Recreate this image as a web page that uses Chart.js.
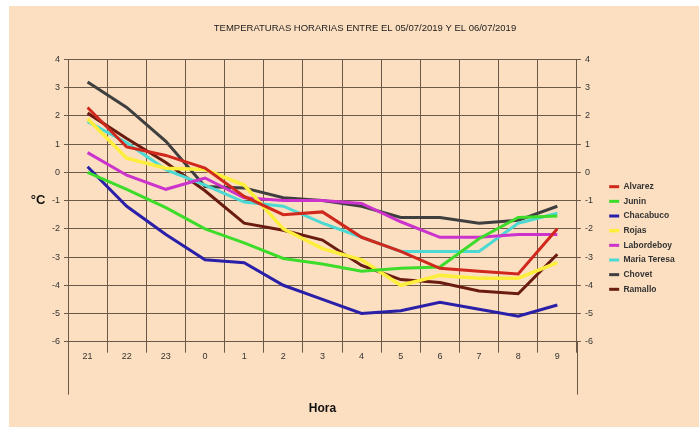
<!DOCTYPE html>
<html>
<head>
<meta charset="utf-8">
<script src="https://cdn.jsdelivr.net/npm/chart.js@4/dist/chart.umd.min.js"></script>
<style>
  html, body { margin: 0; padding: 0; background: #ffffff; }
  canvas { display: block; }
</style>
</head>
<body>
<canvas id="c" width="699" height="433"></canvas>
<script>
// ---- data ----
const hours = ['21', '22', '23', '0', '1', '2', '3', '4', '5', '6', '7', '8', '9'];
const alvarez     = [2.3, 0.9, 0.6, 0.15, -0.85, -1.5, -1.4, -2.3, -2.8, -3.4, -3.5, -3.6, -2.0];
const junin       = [0.0, -0.6, -1.25, -2.0, -2.5, -3.05, -3.25, -3.5, -3.4, -3.35, -2.35, -1.6, -1.55];
const chacabuco   = [0.2, -1.2, -2.2, -3.1, -3.2, -4.0, -4.5, -5.0, -4.9, -4.6, -4.85, -5.1, -4.7];
const rojas       = [1.9, 0.5, 0.15, 0.1, -0.45, -2.0, -2.7, -3.1, -4.0, -3.65, -3.75, -3.75, -3.2];
const labordeboy  = [0.7, -0.1, -0.6, -0.2, -0.9, -1.0, -1.0, -1.1, -1.75, -2.3, -2.3, -2.2, -2.2];
const mariaTeresa = [1.8, 1.05, 0.1, -0.45, -1.05, -1.2, -1.8, -2.3, -2.8, -2.8, -2.8, -1.8, -1.45];
const chovet      = [3.2, 2.3, 1.1, -0.5, -0.55, -0.9, -1.0, -1.2, -1.6, -1.6, -1.8, -1.7, -1.2];
const ramallo     = [2.1, 1.2, 0.35, -0.65, -1.8, -2.05, -2.4, -3.3, -3.8, -3.9, -4.2, -4.3, -2.9];

const seriesNames = ['Alvarez', 'Junin', 'Chacabuco', 'Rojas', 'Labordeboy', 'Maria Teresa', 'Chovet', 'Ramallo'];
const seriesData = [alvarez, junin, chacabuco, rojas, labordeboy, mariaTeresa, chovet, ramallo];
const seriesColors = ['#d0281c', '#3ddc2a', '#2a1fa8', '#fdee3c', '#cc33cc', '#4dd9d3', '#3f3f3f', '#6b1c10'];
const seriesWidths = [3, 3, 3, 3.5, 3, 3, 3, 3];

const yMin = -6, yMax = 4;
const titleText = 'TEMPERATURAS HORARIAS ENTRE EL 05/07/2019 Y EL 06/07/2019';
const xTitle = 'Hora';
const yTitle = '°C';

const BG = '#fcdfc1';
const GRID = '#6a5848';
const FONT = "'Liberation Sans', Arial, sans-serif";

const datasets = seriesNames.map((name, i) => ({
  label: name,
  data: seriesData[i],
  borderColor: seriesColors[i],
  backgroundColor: seriesColors[i],
  borderWidth: seriesWidths[i],
  pointRadius: 0,
  pointHoverRadius: 0,
  pointStyle: 'line',
  tension: 0,
  fill: false,
  yAxisID: 'y'
}));

const decorPlugin = {
  id: 'decor',
  beforeUpdate(chart) {
    const lg = chart.legend;
    if (lg && !lg._patched) {
      const orig = lg.fit;
      lg.fit = function () { orig.call(this); if (this.options.display) this.width = 96; };
      lg._patched = true;
    }
  },
  beforeDraw(chart) {
    const ctx = chart.ctx;
    ctx.save();
    ctx.fillStyle = '#ffffff';
    ctx.fillRect(0, 0, chart.width, chart.height);
    ctx.fillStyle = BG;
    ctx.fillRect(9, 6, chart.width - 9, chart.height - 12);
    ctx.restore();
  },
  afterDraw(chart) {
    const ctx = chart.ctx;
    const a = chart.chartArea;
    ctx.save();
    ctx.strokeStyle = GRID;
    ctx.lineWidth = 1;
    ctx.beginPath();
    ctx.moveTo(Math.round(a.left) + 0.5, a.bottom);
    ctx.lineTo(Math.round(a.left) + 0.5, a.bottom + 53);
    ctx.moveTo(Math.round(a.right) + 0.5, a.bottom);
    ctx.lineTo(Math.round(a.right) + 0.5, a.bottom + 53);
    ctx.stroke();
    ctx.fillStyle = '#111';
    ctx.font = 'bold 13px ' + FONT;
    ctx.textAlign = 'center';
    ctx.textBaseline = 'middle';
    ctx.fillText(yTitle, 38, (a.top + a.bottom) / 2);
    ctx.restore();
  }
};

new Chart(document.getElementById('c'), {
  type: 'line',
  data: { labels: hours, datasets },
  plugins: [decorPlugin],
  options: {
    responsive: false,
    animation: false,
    layout: { padding: { left: 31, right: 0, top: 0, bottom: 0 } },
    plugins: {
      tooltip: { enabled: false },
      title: {
        display: true,
        text: titleText,
        color: '#222',
        font: { family: FONT, size: 9.5, weight: 'normal' },
        padding: { top: 22.3, bottom: 25.8 }
      },
      legend: {
        display: true,
        position: 'right',
        align: 'center',
        title: { display: true, text: ' ', font: { size: 10 }, padding: { top: 31, bottom: 0 } },
        labels: {
          usePointStyle: true,
          pointStyle: 'line',
          pointStyleWidth: 10,
          padding: 6.16,
          color: '#333',
          font: { family: FONT, size: 8.5, weight: 'bold' }
        }
      }
    },
    scales: {
      x: {
        type: 'category',
        offset: true,
        grid: { offset: true, color: GRID, lineWidth: 1, drawTicks: true, tickLength: 11 },
        border: { display: true, color: GRID },
        ticks: { color: '#333', font: { family: FONT, size: 9 }, padding: -2, maxRotation: 0, autoSkip: false },
        title: { display: true, text: xTitle, color: '#111', font: { family: FONT, size: 12, weight: 'bold' }, padding: { top: 0, bottom: 16.8 } },
        afterFit(s) { s.height = 91.3; }
      },
      y: {
        type: 'linear',
        position: 'left',
        min: yMin, max: yMax,
        grid: { color: GRID, lineWidth: 1, drawTicks: true, tickLength: 4 },
        border: { display: true, color: GRID },
        ticks: { stepSize: 1, color: '#333', font: { family: FONT, size: 9 }, padding: 4 },
        afterFit(s) { s.width = 37; }
      },
      y2: {
        type: 'linear',
        position: 'right',
        min: yMin, max: yMax,
        grid: { drawOnChartArea: false, color: GRID, lineWidth: 1, drawTicks: true, tickLength: 4 },
        border: { display: true, color: GRID },
        ticks: { stepSize: 1, color: '#333', font: { family: FONT, size: 9 }, padding: 4 },
        afterFit(s) { s.width = 26.1; }
      }
    }
  }
});
</script>
</body>
</html>
